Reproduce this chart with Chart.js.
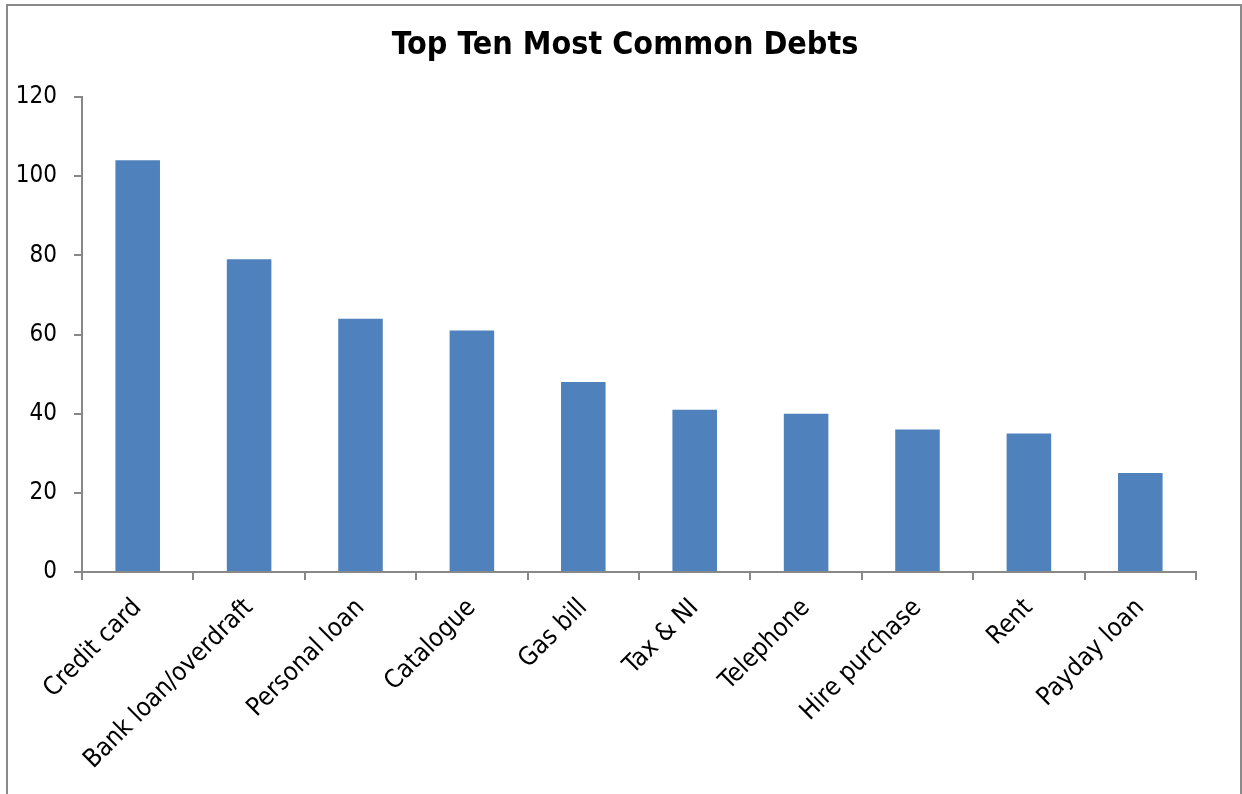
<!DOCTYPE html>
<html>
<head>
<meta charset="utf-8">
<script src="https://cdn.jsdelivr.net/npm/chart.js@4.4.1/dist/chart.umd.min.js"></script>
<style>
  html, body { margin: 0; padding: 0; background: #fff; overflow: hidden; }
  #frame { position: absolute; left: 6px; top: 4px; width: 1232px; height: 900px; border: 2px solid #8a8a8a; }
  #c { position: absolute; left: 0; top: 0; }
</style>
</head>
<body>
<div id="frame"></div>
<canvas id="c" width="1242" height="794"></canvas>
<script>
const categories = ["Credit card", "Bank loan/overdraft", "Personal loan", "Catalogue", "Gas bill", "Tax & NI", "Telephone", "Hire purchase", "Rent", "Payday loan"];
const debtCounts = [104, 79, 64, 61, 48, 41, 40, 36, 35, 25];
const chartTitle = "Top Ten Most Common Debts";
const yMin = 0, yMax = 120, yStep = 20;

const FONT = "'DejaVu Sans Condensed', 'DejaVu Sans', sans-serif";

new Chart(document.getElementById('c'), {
  type: 'bar',
  data: {
    labels: categories,
    datasets: [{
      data: debtCounts,
      backgroundColor: '#4F81BD',
      borderColor: '#4F81BD',
      borderWidth: 0,
      categoryPercentage: 0.8,
      barPercentage: 0.5
    }]
  },
  options: {
    responsive: false,
    animation: false,
    layout: { padding: { left: 8, right: 0, top: 0, bottom: 0 } },
    plugins: {
      legend: { display: false },
      tooltip: { enabled: false },
      title: {
        display: true,
        text: chartTitle,
        color: '#000',
        font: { family: FONT, size: 32, weight: 'bold' },
        padding: { top: 26, bottom: 32.6 }
      }
    },
    scales: {
      x: {
        grid: { drawOnChartArea: false, drawTicks: true, tickLength: 8, color: '#888', lineWidth: 2, offset: true },
        border: { display: true, color: '#888', width: 2 },
        ticks: {
          color: '#000',
          font: { family: FONT, size: 25.5 },
          minRotation: 45, maxRotation: 45,
          autoSkip: false,
          padding: 13
        },
        afterFit: (s) => { s.height = 222; }
      },
      y: {
        min: yMin, max: yMax,
        grid: { drawOnChartArea: false, drawTicks: true, tickLength: 8, color: '#888', lineWidth: 2 },
        border: { display: true, color: '#888', width: 2 },
        ticks: {
          stepSize: yStep,
          color: '#000',
          font: { family: FONT, size: 24 },
          padding: 17
        },
        afterFit: (s) => { s.width = 74; }
      },
      yRightSpace: {
        type: 'linear',
        position: 'right',
        display: true,
        min: yMin, max: yMax,
        grid: { display: false, drawTicks: false },
        border: { display: false },
        ticks: { display: false },
        afterFit: (s) => { s.width = 46; }
      }
    }
  }
});
</script>
</body>
</html>
